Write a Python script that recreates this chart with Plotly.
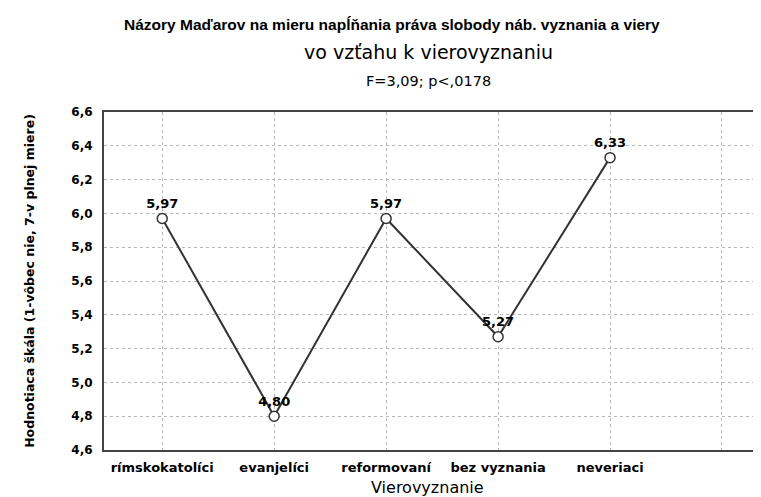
import plotly.graph_objects as go

# data
categories = ["rímskokatolíci", "evanjelíci", "reformovaní", "bez vyznania", "neveriaci"]
means = [5.97, 4.80, 5.97, 5.27, 6.33]
y_ticks = [4.6, 4.8, 5.0, 5.2, 5.4, 5.6, 5.8, 6.0, 6.2, 6.4, 6.6]

positions = list(range(len(categories)))
labels = [f"{v:.2f}".replace(".", ",") for v in means]

font = "DejaVu Sans, Arial, sans-serif"
arial = "Liberation Sans, Arial, sans-serif"

# plot area in pixels (from the reference)
L, R, T, B = 96, 761, 104, 442

def px_x(px):
    return (px - L) / (R - L)

def px_y(py):
    return (B - py) / (B - T)

fig = go.Figure()
fig.add_trace(go.Scatter(
    x=positions,
    y=means,
    mode="lines+markers+text",
    text=labels,
    textposition="top center",
    textfont=dict(family=font, size=13, color="black", weight="bold"),
    line=dict(color="#333333", width=2),
    marker=dict(symbol="circle", size=10, color="white",
                line=dict(color="#333333", width=1.5)),
    cliponaxis=False,
    showlegend=False,
))

grid = dict(showgrid=True, gridcolor="#b8b8b8", griddash="dot", gridwidth=1)

fig.update_xaxes(
    range=[-0.52, 5.42],
    tickvals=list(range(len(categories) + 1)),
    ticktext=categories + [""],
    tickfont=dict(family=font, size=13, color="black", weight="bold"),
    showline=True, linecolor="#444444", linewidth=2, mirror=True,
    zeroline=False, ticks="", ticklabelstandoff=4,
    **grid,
)
fig.update_yaxes(
    range=[4.6, 6.6],
    tickvals=y_ticks,
    tickformat=".1f",
    tickfont=dict(family=font, size=12, color="black", weight="bold"),
    showline=True, linecolor="#444444", linewidth=2, mirror=False,
    zeroline=False, ticks="", ticklabelstandoff=7,
    title=dict(text="Hodnotiaca škála (1-vôbec nie, 7-v plnej miere)",
               font=dict(family=font, size=12.5, color="black", weight="bold"),
               standoff=34),
    **grid,
)

fig.update_layout(
    width=761, height=497,
    margin=dict(l=L, r=0, t=T, b=497 - B),
    plot_bgcolor="white", paper_bgcolor="white",
    separators=", ",
)

def note(text, cx, cy, f):
    fig.add_annotation(text=text, x=px_x(cx), y=px_y(cy), xref="paper", yref="paper",
                       xanchor="center", yanchor="middle", showarrow=False, font=f)

note("Názory Maďarov na mieru napĺňania práva slobody náb. vyznania a viery", 384, 16,
     dict(family=arial, size=15.5, color="black", weight="bold"))
note("vo vzťahu k vierovyznaniu", 420, 44, dict(family=font, size=19, color="black"))
note("F=3,09; p<,0178", 420, 73, dict(family=font, size=14.5, color="black"))
note("Vierovyznanie", 419, 480, dict(family=font, size=16, color="black"))

fig.write_html("out.html")
